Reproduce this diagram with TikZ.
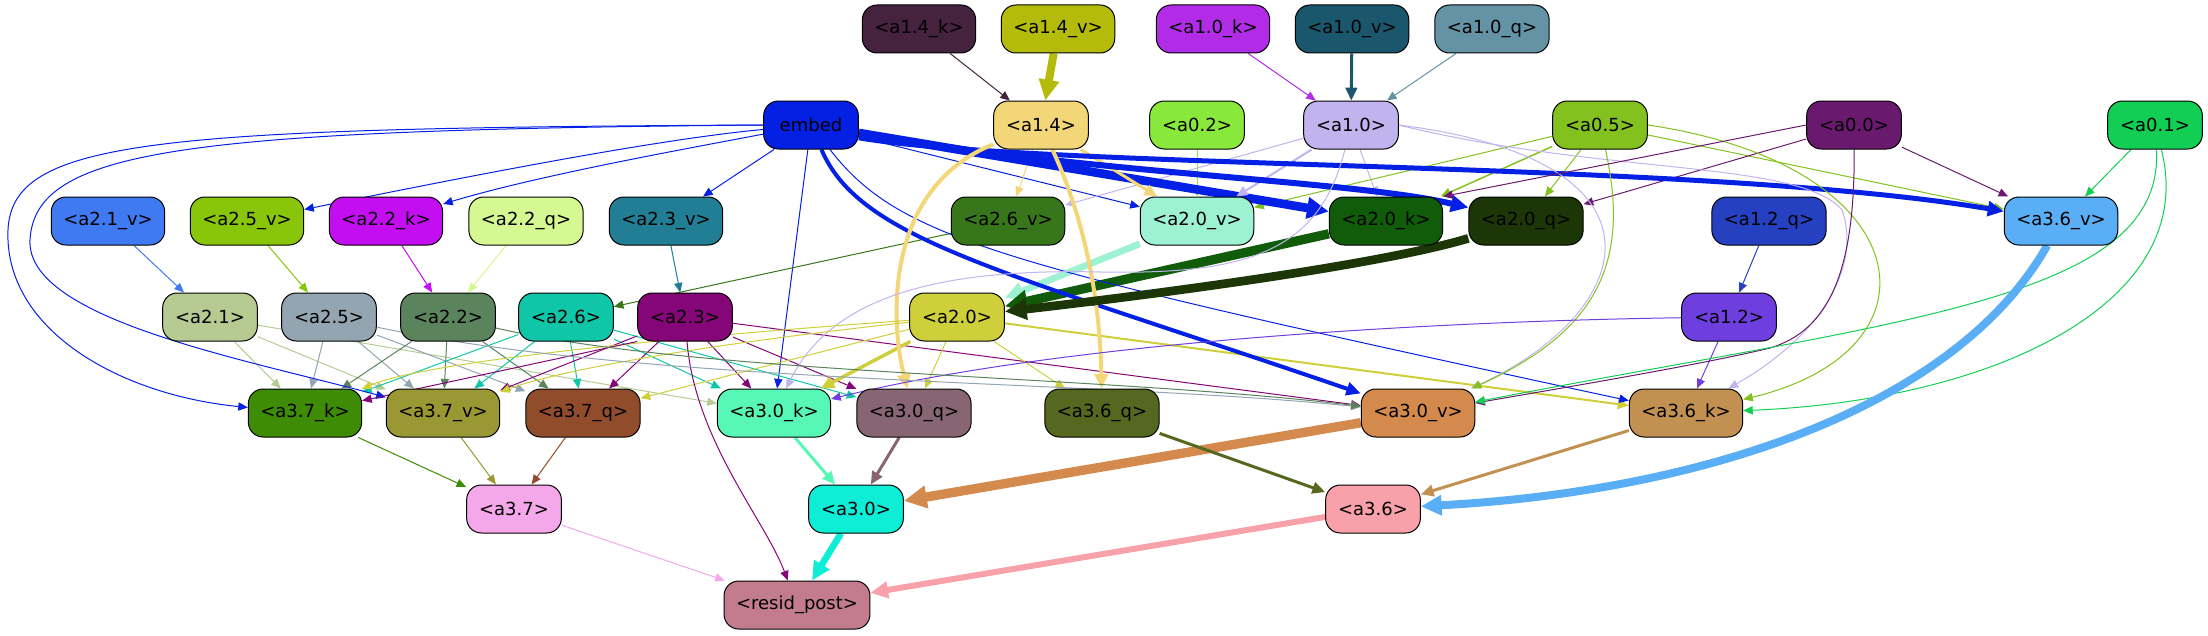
\documentclass[tikz,border=0pt]{standalone}
\usepackage{fontspec}
\setmainfont{DejaVu Sans}
\usetikzlibrary{arrows.meta,backgrounds}

\definecolor{a14k}{HTML}{45223D}
\definecolor{a14v}{HTML}{B5BB0A}
\definecolor{a10k}{HTML}{B22BE6}
\definecolor{a10v}{HTML}{1A566C}
\definecolor{a10q}{HTML}{6393A4}
\definecolor{embed}{HTML}{0520E5}
\definecolor{a14}{HTML}{F2D677}
\definecolor{a02}{HTML}{88E83C}
\definecolor{a10}{HTML}{C0B3EE}
\definecolor{a05}{HTML}{83C11E}
\definecolor{a00}{HTML}{6A1A6E}
\definecolor{a01}{HTML}{12CE52}
\definecolor{a21v}{HTML}{3F7AF2}
\definecolor{a25v}{HTML}{89C60A}
\definecolor{a22k}{HTML}{C40EF2}
\definecolor{a22q}{HTML}{D6F892}
\definecolor{a23v}{HTML}{217E94}
\definecolor{a26v}{HTML}{38761C}
\definecolor{a20v}{HTML}{9DF2D4}
\definecolor{a20k}{HTML}{115C0A}
\definecolor{a20q}{HTML}{1C3607}
\definecolor{a12q}{HTML}{2541C2}
\definecolor{a36v}{HTML}{5AAEF5}
\definecolor{a21}{HTML}{B5CB92}
\definecolor{a25}{HTML}{94A5B2}
\definecolor{a22}{HTML}{5B845C}
\definecolor{a26}{HTML}{0FC6A8}
\definecolor{a23}{HTML}{850676}
\definecolor{a20}{HTML}{CECF3A}
\definecolor{a12}{HTML}{6E3EDF}
\definecolor{a37k}{HTML}{3E8C06}
\definecolor{a37v}{HTML}{9A9833}
\definecolor{a37q}{HTML}{914C2C}
\definecolor{a30k}{HTML}{57F8B6}
\definecolor{a30q}{HTML}{876573}
\definecolor{a36q}{HTML}{566820}
\definecolor{a30v}{HTML}{D38A4C}
\definecolor{a36k}{HTML}{C29151}
\definecolor{a37}{HTML}{F5A8E9}
\definecolor{a30}{HTML}{0EEED6}
\definecolor{a36}{HTML}{F9A1AA}
\definecolor{resid}{HTML}{C27C8E}

\tikzset{
  box/.style={draw=black,line width=0.75pt,rounded corners=11pt,minimum width=71pt,
    minimum height=36pt,inner xsep=9pt,font=\fontsize{13.5}{16}\selectfont},
  wire/.style={line width=#1,-{Triangle[length=6pt 1.6,width=5pt 1.6]}},
  wire/.default=0.75pt
}

\begin{document}
\begin{tikzpicture}[x=0.75pt,y=-0.75pt]
  \useasboundingbox (0,0) rectangle (2208,635);
  \foreach \n/\x/\y/\lab in {a14k/919/29/{<a1.4\_k>}, a14v/1058/29/{<a1.4\_v>},
      a10k/1213/29/{<a1.0\_k>}, a10v/1352/29/{<a1.0\_v>}, a10q/1492/29/{<a1.0\_q>},
      embed/811/125/{embed}, a14/1041/125/{<a1.4>}, a02/1197/125/{<a0.2>},
      a10/1351/125/{<a1.0>}, a05/1600/125/{<a0.5>}, a00/1854/125/{<a0.0>}, a01/2155/125/{<a0.1>},
      a21v/108/221/{<a2.1\_v>}, a25v/247/221/{<a2.5\_v>}, a22k/386/221/{<a2.2\_k>},
      a22q/526/221/{<a2.2\_q>}, a23v/666/221/{<a2.3\_v>}, a26v/1008/221/{<a2.6\_v>},
      a20v/1197/221/{<a2.0\_v>}, a20k/1386/221/{<a2.0\_k>}, a20q/1526/221/{<a2.0\_q>},
      a12q/1769/221/{<a1.2\_q>}, a36v/2061/221/{<a3.6\_v>},
      a21/210/317/{<a2.1>}, a25/329/317/{<a2.5>}, a22/448/317/{<a2.2>}, a26/566/317/{<a2.6>},
      a23/685/317/{<a2.3>}, a20/957/317/{<a2.0>}, a12/1729/317/{<a1.2>},
      a37k/305/413/{<a3.7\_k>}, a37v/443/413/{<a3.7\_v>}, a37q/583/413/{<a3.7\_q>},
      a30k/774/413/{<a3.0\_k>}, a30q/914/413/{<a3.0\_q>}, a36q/1102/413/{<a3.6\_q>},
      a30v/1418/413/{<a3.0\_v>}, a36k/1686/413/{<a3.6\_k>},
      a37/514/509/{<a3.7>}, a30/856/509/{<a3.0>}, a36/1373/509/{<a3.6>},
      resid/797/605/{<resid\_post>}}
    \node[box,fill=\n] (\n) at (\x,\y) {\lab};

  \begin{scope}[on background layer]
    \foreach \a/\b in {a14k/a14, a10k/a10, a10q/a10, embed/a23v, embed/a20v, embed/a30k,
        a14/a26v, a02/a20v, a10/a26v, a10/a20k, a05/a20v, a05/a20q, a05/a36v, a00/a20q,
        a00/a36v, a01/a36v, a21v/a21, a25v/a25, a22k/a22, a22q/a22, a23v/a23, a26v/a26,
        a12q/a12, a21/a37k, a21/a37v, a21/a30k, a25/a37k, a25/a37v, a25/a37q, a22/a37k,
        a22/a37v, a22/a37q, a26/a37k, a26/a37v, a26/a37q, a26/a30k, a26/a30q, a23/a37v,
        a23/a37q, a23/a30k, a23/a30q, a23/a30v, a20/a37q, a20/a30q, a20/a36q, a12/a36k,
        a37k/a37, a37v/a37, a37q/a37, a37/resid}
      \draw[wire,\a] (\a) -- (\b);
    \foreach \a/\b/\w in {a14v/a14/6pt, a10v/a10/2.25pt, embed/a20k/6.5pt, a14/a20v/2.25pt,
        a10/a20v/1.5pt, a05/a20k/1.1pt, a20v/a20/5pt, a20k/a20/7pt, a20/a30k/2.6pt,
        a20/a36k/1.5pt, a30k/a30/2.25pt, a30q/a30/2.25pt, a30v/a30/7pt, a36q/a36/2.25pt,
        a36k/a36/2.25pt, a30/resid/5pt, a36/resid/4.5pt}
      \draw[wire=\w,\a] (\a) -- (\b);

    \draw[wire,embed] (embed) .. controls (650,140) and (450,180) .. (a25v);
    \draw[wire,embed] (embed) .. controls (680,150) and (540,175) .. (a22k);
    \draw[wire,embed] (embed.west) .. controls (150,128) and (12,140) .. (8,230)
      .. controls (4,330) and (120,395) .. (a37k);
    \draw[wire,embed] (embed.west) .. controls (180,130) and (35,150) .. (30,240)
      .. controls (26,320) and (250,360) .. (a37v);
    \draw[wire=4.5pt,embed] (embed) .. controls (1100,175) and (1350,180) .. (a20q);
    \draw[wire=3.75pt,embed] (embed.-15) .. controls (1050,170) and (1700,160) .. (a36v);
    \draw[wire=3pt,embed] (embed) .. controls (860,240) and (1000,270) .. (a30v);
    \draw[wire,embed] (embed) .. controls (900,240) and (1000,265) .. (a36k);
    \draw[wire=3pt,a14] (a14) .. controls (880,190) and (892,330) .. (a30q);
    \draw[wire=3pt,a14] (a14) .. controls (1085,220) and (1100,300) .. (a36q);
    \draw[wire,a10] (a10) .. controls (1320,250) and (1250,275) .. (1100,272)
      .. controls (930,268) and (830,300) .. (a30k);
    \draw[wire,a10] (a10.east) .. controls (1680,160) and (1640,310) .. (a30v);
    \draw[wire,a10] (a10.east) .. controls (1600,175) and (1800,160) .. (1842,210)
      .. controls (1860,260) and (1830,330) .. (a36k);
    \draw[wire,a05] (a05) .. controls (1630,260) and (1600,330) .. (a30v);
    \draw[wire,a05] (a05.east) .. controls (1920,165) and (1950,350) .. (a36k);
    \draw[wire,a00] (a00.west) -- (a20k.north east);
    \draw[wire,a00] (a00) .. controls (1855,270) and (1830,330) .. (1770,348)
      .. controls (1700,365) and (1550,390) .. (a30v);
    \draw[wire,a01] (a01) .. controls (2165,300) and (1900,320) .. (a30v);
    \draw[wire,a01] (a01) .. controls (2200,300) and (2000,400) .. (a36k);
    \draw[wire=6pt,a36v] (a36v) .. controls (1960,400) and (1720,490) .. (a36);
    \draw[wire=6.5pt,a20q] (a20q) .. controls (1380,265) and (1150,295) .. (a20);
    \draw[wire,a20] (a20) .. controls (700,345) and (560,370) .. (a37v);
    \draw[wire,a20] (a20) .. controls (700,335) and (430,360) .. (a37k);
    \draw[wire,a23] (a23.south west) -- (a37k);
    \draw[wire,a23] (a23) .. controls (695,440) and (765,520) .. (resid);
    \draw[wire,a12] (a12) .. controls (1400,322) and (1050,345) .. (a30k);
    \draw[wire,a25] (a25) .. controls (650,385) and (1100,380) .. (a30v);
    \draw[wire,a22] (a22) .. controls (700,375) and (1100,375) .. (a30v);
  \end{scope}
\end{tikzpicture}
\end{document}
